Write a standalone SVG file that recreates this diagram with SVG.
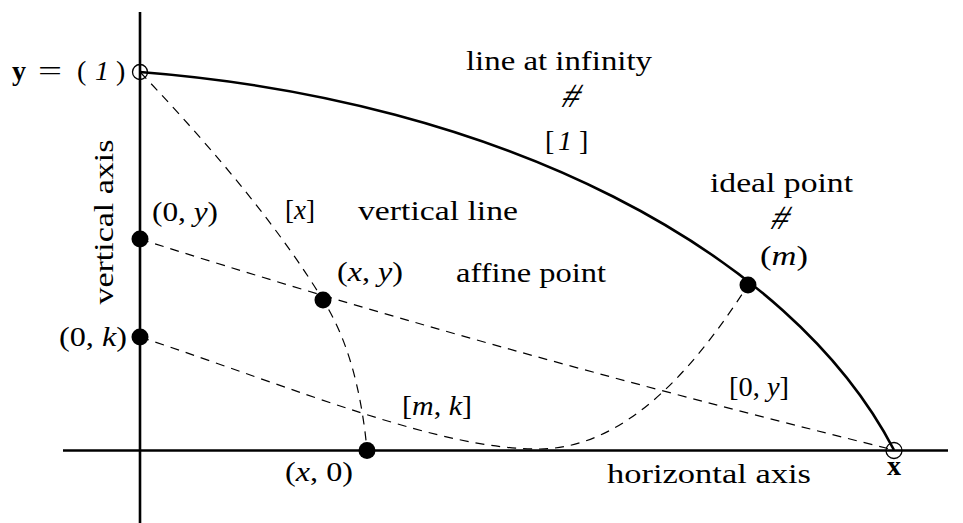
<svg xmlns="http://www.w3.org/2000/svg" width="963" height="523" viewBox="0 0 963 523">
<style>
text{font-family:"Liberation Serif","Times New Roman",serif;font-size:28px;fill:#000}
.it{font-style:italic}
.bf{font-weight:bold}
.hash{font-size:34px}
.axis{stroke:#000;stroke-width:2.6;fill:none}
.arc{stroke:#000;stroke-width:2.6;fill:none}
.dash{stroke:#000;stroke-width:1.2;fill:none;stroke-dasharray:9 7}
.dot{fill:#000}
.open{fill:none;stroke:#000;stroke-width:1.3}
</style>
<rect width="963" height="523" fill="#fff"/>
<g id="connectors">
  <line class="axis" x1="140" y1="12" x2="140" y2="523"/>
  <line class="axis" x1="63" y1="450.5" x2="948" y2="450.5"/>
  <path class="arc" d="M140,72 C500,100 790,250 894,450"/>
  <path class="dash" d="M140,72 Q262,200 323,300 Q358,355 367,450"/>
  <path class="dash" d="M140,239 Q476,346.5 894,450"/>
  <path class="dash" d="M140,337 C300,390 440,450 540,449 C630,448 700,360 748,285"/>
</g>
<g id="point-y">
  <circle class="open" cx="140" cy="72" r="7.5"/>
  <text class="bf" x="12" y="80">y</text>
  <text x="38" y="80" textLength="24" lengthAdjust="spacingAndGlyphs">=</text>
  <text x="77" y="80">(</text>
  <text class="it" x="95" y="80">1</text>
  <text x="116" y="80">)</text>
</g>
<g id="point-x">
  <circle class="open" cx="894" cy="450.5" r="8"/>
  <text class="bf" x="887" y="475">x</text>
</g>
<g id="line-at-infinity">
  <text x="466" y="70" textLength="186" lengthAdjust="spacingAndGlyphs">line at infinity</text>
  <text class="hash" transform="translate(568,107) skewX(-22)" text-anchor="middle">#</text>
  <text x="545" y="150">[</text>
  <text class="it" x="558" y="150">1</text>
  <text x="579" y="150">]</text>
</g>
<g id="ideal-point">
  <circle class="dot" cx="748" cy="285" r="8.5"/>
  <text x="710" y="192" textLength="143" lengthAdjust="spacingAndGlyphs">ideal point</text>
  <text class="hash" transform="translate(777,229) skewX(-22)" text-anchor="middle">#</text>
  <text x="760" y="265" textLength="48" lengthAdjust="spacingAndGlyphs">(<tspan class="it">m</tspan>)</text>
</g>
<g id="vertical-axis-label">
  <text transform="translate(113,222) rotate(-90)" text-anchor="middle" textLength="165" lengthAdjust="spacingAndGlyphs">vertical axis</text>
</g>
<g id="horizontal-axis-label">
  <text x="607" y="483" textLength="204" lengthAdjust="spacingAndGlyphs">horizontal axis</text>
</g>
<g id="point-0y">
  <circle class="dot" cx="140" cy="239" r="8.5"/>
  <text x="152" y="221" textLength="66" lengthAdjust="spacingAndGlyphs">(0, <tspan class="it">y</tspan>)</text>
</g>
<g id="point-0k">
  <circle class="dot" cx="140" cy="337" r="8.5"/>
  <text x="59" y="346" textLength="68" lengthAdjust="spacingAndGlyphs">(0, <tspan class="it">k</tspan>)</text>
</g>
<g id="point-xy">
  <circle class="dot" cx="323" cy="300" r="8.5"/>
  <text x="337" y="281" textLength="66" lengthAdjust="spacingAndGlyphs">(<tspan class="it">x</tspan>, <tspan class="it">y</tspan>)</text>
  <text x="456" y="282" textLength="150" lengthAdjust="spacingAndGlyphs">affine point</text>
</g>
<g id="point-x0">
  <circle class="dot" cx="367" cy="450.5" r="8.5"/>
  <text x="285" y="481" textLength="68" lengthAdjust="spacingAndGlyphs">(<tspan class="it">x</tspan>, 0)</text>
</g>
<g id="vertical-line-label">
  <text x="285" y="219" textLength="30" lengthAdjust="spacingAndGlyphs">[<tspan class="it">x</tspan>]</text>
  <text x="358" y="220" textLength="160" lengthAdjust="spacingAndGlyphs">vertical line</text>
</g>
<g id="line-mk-label">
  <text x="402" y="415" textLength="70" lengthAdjust="spacingAndGlyphs">[<tspan class="it">m</tspan>, <tspan class="it">k</tspan>]</text>
</g>
<g id="line-0y-label">
  <text x="729" y="396" textLength="60" lengthAdjust="spacingAndGlyphs">[0, <tspan class="it">y</tspan>]</text>
</g>
</svg>
